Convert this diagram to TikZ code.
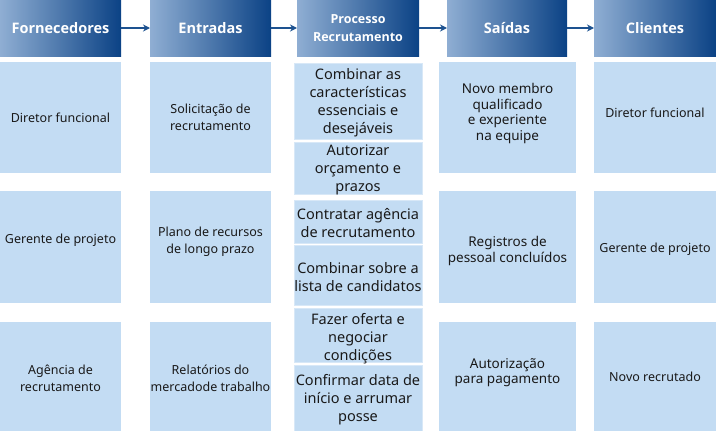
\documentclass[tikz,border=0pt]{standalone}
\usepackage{fontspec}
\setmainfont{Noto Sans}
\newfontfamily\hdrfont{Open Sans}
\usetikzlibrary{arrows.meta,calc}
\definecolor{cellblue}{HTML}{C3DCF3}
\definecolor{cellline}{HTML}{D8E8F7}
\definecolor{hdrL}{HTML}{8FAED3}
\definecolor{hdrR}{HTML}{0B4285}
\definecolor{arrblue}{HTML}{1D5290}
\begin{document}
\begin{tikzpicture}[x=1pt,y=-1pt,
  hdr/.style={anchor=north west, inner sep=0pt, outer sep=0pt, minimum height=56pt,
    left color=hdrL, right color=hdrR, text=white, align=center,
    font=\hdrfont\bfseries\fontsize{14.5}{17}\selectfont},
  cell/.style={anchor=north west, inner sep=0pt, outer sep=0pt, fill=cellblue},
  pcell/.style={cell, minimum width=128pt, draw=cellline, line width=0.8pt},
  txt/.style={align=center, inner sep=0pt, text=black!90, font=\fontsize{12.5}{17}\selectfont},
  stxt/.style={align=center, inner sep=0pt, text=black!90, font=\fontsize{13.5}{15.5}\selectfont},
  ptxt/.style={align=center, inner sep=0pt, text=black!90, font=\fontsize{14.5}{18}\selectfont},
  arr/.style={draw=arrblue, line width=1.8pt, -{Stealth[length=7pt,width=7pt]}}]
\useasboundingbox (0,0) rectangle (716,431);
% headers
\node[hdr, minimum width=121pt] (hF) at (0,0) {Fornecedores};
\node[hdr, minimum width=121pt] (hE) at (150,0) {Entradas};
\node[hdr, minimum width=122pt, font=\hdrfont\bfseries\fontsize{12.5}{18}\selectfont] (hP) at (297,0) {Processo\\Recrutamento};
\node[hdr, minimum width=120pt] (hS) at (447,0) {Saídas};
\node[hdr, minimum width=122pt] (hC) at (594,0) {Clientes};
\draw[arr] (hF.east) -- (hE.west);
\draw[arr] (hE.east) -- (hP.west);
\draw[arr] (hP.east) -- (hS.west);
\draw[arr] (hS.east) -- (hC.west);
% column 1
\node[cell, minimum width=121pt, minimum height=111pt] (f1) at (0,62) {};
\node[cell, minimum width=121pt, minimum height=112pt] (f2) at (0,191) {};
\node[cell, minimum width=121pt, minimum height=109pt] (f3) at (0,322) {};
\node[txt] (tf1) at (f1.center) {Diretor funcional};
\node[txt] (tf2) at ([yshift=7pt]f2.center) {Gerente de projeto};
\node[txt] (tf3) at ([yshift=-2pt]f3.center) {Agência de\\recrutamento};
% column 2
\node[cell, minimum width=121pt, minimum height=111pt] (e1) at (150,62) {};
\node[cell, minimum width=121pt, minimum height=112pt] (e2) at (150,191) {};
\node[cell, minimum width=121pt, minimum height=109pt] (e3) at (150,322) {};
\node[txt] (te1) at (e1.center) {Solicitação de\\recrutamento};
\node[txt] (te2) at ([yshift=5.5pt]e2.center) {Plano de recursos\\de longo prazo};
\node[txt] (te3) at ([yshift=-2pt]e3.center) {Relatórios do\\mercadode trabalho};
% process column
\node[pcell, minimum height=76pt] (p1) at (294,63) {};
\node[pcell, minimum height=52pt] (p2) at (294,142) {};
\node[pcell, minimum height=43pt] (p3) at (294,200) {};
\node[pcell, minimum height=60pt] (p4) at (294,245) {};
\node[pcell, minimum height=54pt] (p5) at (294,308) {};
\node[pcell, minimum height=66pt] (p6) at (294,365) {};
\node[ptxt] (tp1) at ([yshift=-2pt]p1.center) {Combinar as\\características\\essenciais e\\desejáveis};
\node[ptxt] (tp2) at ([yshift=-2pt]p2.center) {Autorizar\\orçamento e\\prazos};
\node[ptxt] (tp3) at ([yshift=-1.5pt]p3.center) {Contratar agência\\de recrutamento};
\node[ptxt] (tp4) at ([yshift=-2pt]p4.center) {Combinar sobre a\\lista de candidatos};
\node[ptxt] (tp5) at ([yshift=-4pt]p5.center) {Fazer oferta e\\negociar\\condições};
\node[ptxt] (tp6) at ([yshift=-2pt]p6.center) {Confirmar data de\\início e arrumar\\posse};
% saidas
\node[cell, minimum width=137pt, minimum height=111pt] (s1) at (439,62) {};
\node[cell, minimum width=137pt, minimum height=112pt] (s2) at (439,191) {};
\node[cell, minimum width=137pt, minimum height=109pt] (s3) at (439,322) {};
\node[stxt] (ts1) at ([yshift=4pt]s1.center) {Novo membro\\qualificado\\e experiente\\na equipe};
\node[stxt] (ts2) at ([yshift=-4pt]s2.center) {Registros de\\pessoal concluídos};
\node[stxt] (ts3) at ([yshift=4pt]s3.center) {Autorização\\para pagamento};
% clientes
\node[cell, minimum width=122pt, minimum height=111pt] (c1) at (594,62) {};
\node[cell, minimum width=122pt, minimum height=112pt] (c2) at (594,191) {};
\node[cell, minimum width=122pt, minimum height=109pt] (c3) at (594,322) {};
\node[txt] (tc1) at ([yshift=5pt]c1.center) {Diretor funcional};
\node[txt] (tc2) at ([yshift=-2pt]c2.center) {Gerente de projeto};
\node[txt] (tc3) at (c3.center) {Novo recrutado};
\end{tikzpicture}
\end{document}
